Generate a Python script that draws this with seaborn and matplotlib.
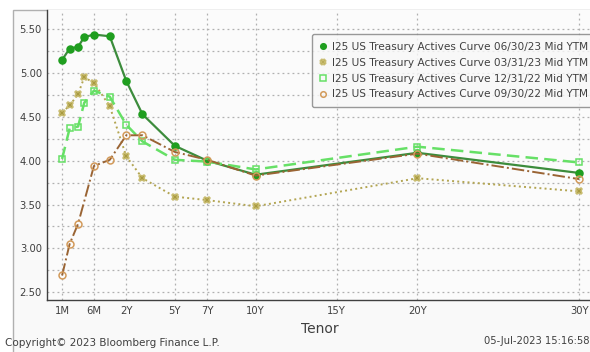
import numpy as np
import pandas as pd
import matplotlib
matplotlib.use("Agg")
import matplotlib.pyplot as plt
from matplotlib.patches import Rectangle
import seaborn as sns

# --------------------------------------------------
# Dati (letti dal grafico Bloomberg)
# --------------------------------------------------
tenor_labels = ["1M", "2M", "3M", "4M", "6M", "1Y", "2Y", "3Y", "5Y", "7Y", "10Y", "20Y", "30Y"]
tenor_years = [1/12, 2/12, 3/12, 4/12, 6/12, 1, 2, 3, 5, 7, 10, 20, 30]

ytm_jun23 = [5.15, 5.28, 5.30, 5.41, 5.44, 5.42, 4.91, 4.53, 4.17, 4.00, 3.84, 4.09, 3.86]
ytm_mar23 = [4.55, 4.63, 4.76, 4.95, 4.89, 4.62, 4.05, 3.80, 3.59, 3.55, 3.48, 3.80, 3.65]
ytm_dec22 = [4.02, 4.37, 4.39, 4.66, 4.80, 4.73, 4.41, 4.22, 4.01, 3.99, 3.90, 4.16, 3.98]
# niente 4M a settembre 2022
ytm_sep22 = [2.69, 3.05, 3.28, np.nan, 3.94, 4.01, 4.29, 4.29, 4.10, 4.01, 3.83, 4.08, 3.79]

series_names = [
    "I25 US Treasury Actives Curve 06/30/23 Mid YTM",
    "I25 US Treasury Actives Curve 03/31/23 Mid YTM",
    "I25 US Treasury Actives Curve 12/31/22 Mid YTM",
    "I25 US Treasury Actives Curve 09/30/22 Mid YTM",
]

xtick_labels = ["1M", "6M", "2Y", "5Y", "7Y", "10Y", "15Y", "20Y", "30Y"]
xtick_years = [1/12, 0.5, 2, 5, 7, 10, 15, 20, 30]
ytick_values = [2.50, 3.00, 3.50, 4.00, 4.50, 5.00, 5.50]

# --------------------------------------------------
# Scala asse x: parte corta "stirata" come Bloomberg
# --------------------------------------------------
anchor_years = [-1, 0, 1/12, 2/12, 3/12, 4/12, 6/12, 1, 2, 30, 100]
anchor_units = [-15, -3, -1.97, -1.5, -0.98, -0.6, 0.0, 0.98, 2, 30, 100]


def fwd(x):
    return np.interp(x, anchor_years, anchor_units)


def inv(u):
    return np.interp(u, anchor_units, anchor_years)


df = pd.DataFrame({
    "years": tenor_years * 4,
    "ytm": ytm_jun23 + ytm_mar23 + ytm_dec22 + ytm_sep22,
    "curve": sum([[n] * len(tenor_years) for n in series_names], []),
})

styles = {
    series_names[0]: dict(color="#3c8c3c", ls="-", lw=1.6, marker="o", ms=5,
                          mfc="#1f9e1f", mec="#1f9e1f"),
    series_names[1]: dict(color="#b3a552", ls=":", lw=1.4, marker="X", ms=4.5,
                          mfc="#a89a40", mec="#c8bc70"),
    series_names[2]: dict(color="#66e066", ls=(0, (5, 2.5)), lw=1.8, marker="s", ms=5,
                          mfc="none", mec="#66e066"),
    series_names[3]: dict(color="#9a6434", ls="-.", lw=1.4, marker="o", ms=5,
                          mfc="none", mec="#d29a5a"),
}

# --------------------------------------------------
# Plot
# --------------------------------------------------
sns.set_style("white")
plt.rcParams["font.family"] = ["DejaVu Sans"]

fig = plt.figure(figsize=(5.9, 3.52), dpi=100)
fig.patch.set_facecolor("white")
fig.patches.append(Rectangle((13 / 590, -0.01), 1.0, 1 - 10 / 352 + 0.01,
                             transform=fig.transFigure, facecolor="#f9f9f9",
                             edgecolor="#b0b0b0", lw=1.0, zorder=-5))

ax = fig.add_axes([46.7 / 590, 1 - 300 / 352, 1 - 46.7 / 590 + 0.02, (300 - 10) / 352])
ax.set_facecolor("#fbfbfb")
ax.set_xscale("function", functions=(fwd, inv))

for name in series_names:
    st = styles[name]
    sub = df[df["curve"] == name].dropna()
    sns.lineplot(data=sub, x="years", y="ytm", ax=ax, color=st["color"],
                 linestyle=st["ls"], linewidth=st["lw"], marker=st["marker"],
                 markersize=st["ms"], markerfacecolor=st["mfc"],
                 markeredgecolor=st["mec"], markeredgewidth=1.1,
                 label=name, sort=False, zorder=3)

ax.set_xlim(inv(-2.92), inv(31.4))
ax.set_ylim(2.41, 5.72)

ax.set_xticks(xtick_years)
ax.set_xticklabels(xtick_labels)
ax.set_xticks([], minor=True)
ax.set_yticks(ytick_values)
ax.set_yticklabels([f"{v:.2f}" for v in ytick_values])
ax.set_yticks(np.arange(2.75, 5.75, 0.5), minor=True)

ax.grid(True, which="both", axis="y", color="#b0b0b0", ls=(0, (1.5, 2.5)), lw=0.9)
ax.grid(True, which="major", axis="x", color="#b0b0b0", ls=(0, (1.5, 2.5)), lw=0.9)

for s in ["top", "right"]:
    ax.spines[s].set_visible(False)
for s in ["left", "bottom"]:
    ax.spines[s].set_color("#404040")
    ax.spines[s].set_linewidth(1.0)

ax.tick_params(axis="y", which="major", direction="inout", length=5, width=1.2,
               color="#202020", labelsize=8, labelcolor="#404040", pad=1)
ax.tick_params(axis="y", which="minor", length=0)
ax.tick_params(axis="x", length=0, labelsize=8, labelcolor="#404040", pad=4)
for lab in ax.get_xticklabels() + ax.get_yticklabels():
    lab.set_fontstretch("condensed")

ax.set_xlabel("Tenor", fontsize=10, color="#404040", labelpad=0)
ax.xaxis.set_label_coords((320 - 46.7) / 555, -0.075)
ax.set_ylabel("")

leg = ax.legend(loc="upper left", bbox_to_anchor=(312 / 590, 1 - 34 / 352),
                bbox_transform=fig.transFigure, fontsize=7.6, frameon=True,
                handlelength=0.6, handletextpad=0.5, borderpad=0.75,
                labelspacing=0.55, borderaxespad=0, fancybox=True)
leg.get_frame().set_edgecolor("#808080")
leg.get_frame().set_facecolor("#f8f8f8")
leg.get_frame().set_linewidth(1.0)
for h in leg.get_lines():
    h.set_linestyle("none")
    h.set_markersize(4)
for t in leg.get_texts():
    t.set_color("#404040")

fig.text(5 / 590, 1 - 343 / 352, "Copyright\u00a9 2023 Bloomberg Finance L.P.",
         fontsize=7.5, color="#404040", va="center", ha="left")
fig.text(589 / 590, 1 - 341 / 352, "05-Jul-2023 15:16:58",
         fontsize=7.2, color="#404040", va="center", ha="right")

fig.savefig("out.png", dpi=100, facecolor=fig.get_facecolor())
